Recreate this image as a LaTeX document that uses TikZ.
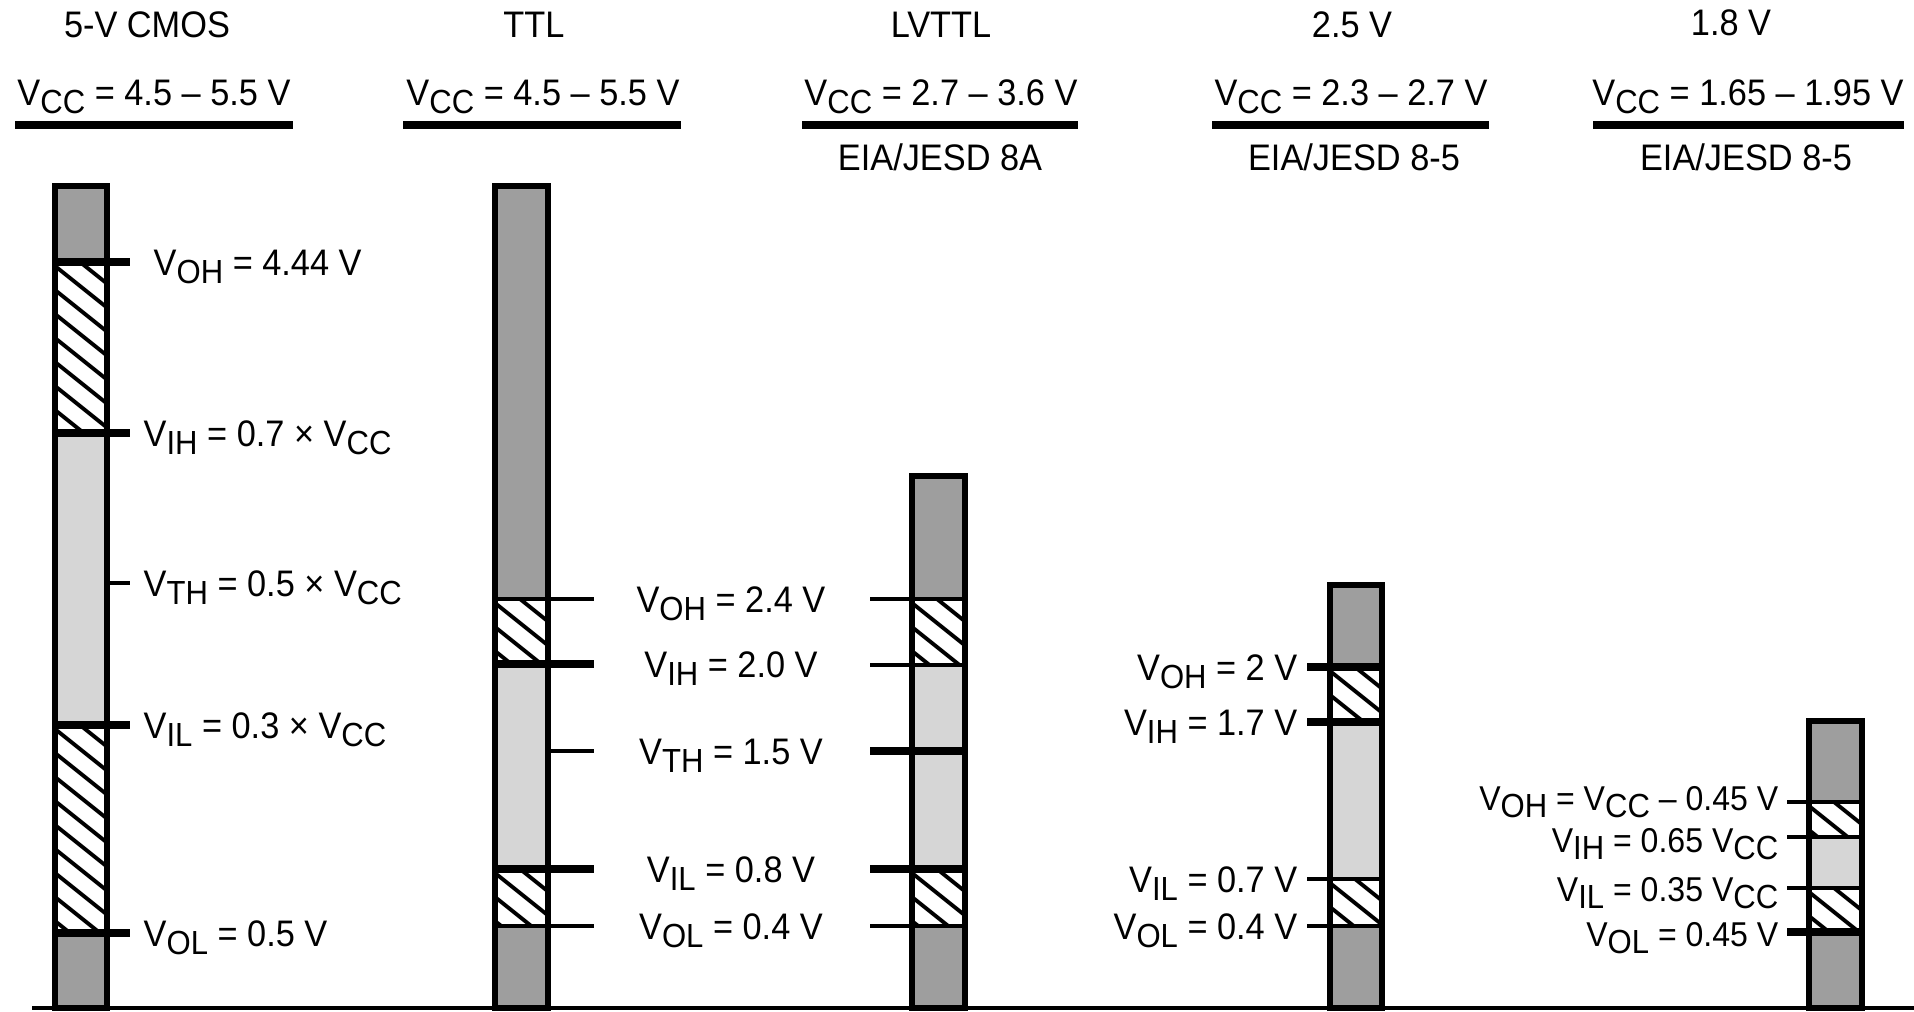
\documentclass[tikz,border=0pt]{standalone}
\usepackage{fontspec}
\setmainfont{Liberation Sans}[FakeStretch=0.93]
\usepackage{tikz}
\usetikzlibrary{positioning}
\definecolor{darkband}{gray}{0.62}
\definecolor{lightband}{gray}{0.84}
\newcommand{\vsub}[1]{V\raisebox{-0.42ex}{\fontsize{9.5}{10}\selectfont #1}}
\newcommand{\hatchzone}[4]{%
  \begin{scope}
    \clip (#1,#2) rectangle (#3,#4);
    \foreach \k in {0,...,14}
      \draw[hatch] (#1-5,#2-96+\k*24) -- ++(85,68);
  \end{scope}}

\begin{document}
\begin{tikzpicture}[x=0.01cm, y=-0.01cm,
    lab/.style={font=\fontsize{10.5}{12}\selectfont, inner sep=0pt},
    smalllab/.style={font=\fontsize{9.8}{12}\selectfont, inner sep=0pt, anchor=base east},
    head/.style={lab, anchor=base},
    hatch/.style={line width=1.1pt},
    barframe/.style={line width=1.5pt},
    thicktick/.style={line width=2.3pt},
    thintick/.style={line width=1.1pt},
    uline/.style={line width=2pt},
    groundline/.style={line width=1.4pt}
]
\useasboundingbox (0,0) rectangle (1914,1011);

% Headers
\node[head] (cmos-title) at (147,37) {5-V CMOS};
\node[head] (cmos-vcc) at (154,105) {\vsub{CC} = 4.5 -- 5.5 V};
\draw[uline] (15,125) -- (293,125);
\node[head] (ttl-title) at (534,37) {TTL};
\node[head] (ttl-vcc) at (543,105) {\vsub{CC} = 4.5 -- 5.5 V};
\draw[uline] (403,125) -- (681,125);
\node[head] (lvttl-title) at (941,37) {LVTTL};
\node[head] (lvttl-vcc) at (941,105) {\vsub{CC} = 2.7 -- 3.6 V};
\draw[uline] (802,125) -- (1078,125);
\node[head] (lvttl-std) at (940,170) {EIA/JESD 8A};
\node[head] (v25-title) at (1352,37) {2.5 V};
\node[head] (v25-vcc) at (1351,105) {\vsub{CC} = 2.3 -- 2.7 V};
\draw[uline] (1212,125) -- (1489,125);
\node[head] (v25-std) at (1354,170) {EIA/JESD 8-5};
\node[head] (v18-title) at (1731,35) {1.8 V};
\node[head] (v18-vcc) at (1748,105) {\vsub{CC} = 1.65 -- 1.95 V};
\draw[uline] (1593,125) -- (1904,125);
\node[head] (v18-std) at (1746,170) {EIA/JESD 8-5};

% 5-V CMOS bar
\fill[darkband] (55,186) rectangle (107,262);
\hatchzone{55}{262}{107}{433}
\fill[lightband] (55,433) rectangle (107,725);
\hatchzone{55}{725}{107}{933}
\fill[darkband] (55,933) rectangle (107,1008);
\draw[barframe] (55,186) rectangle (107,1008);
\draw[thicktick] (55,262) -- (130,262);
\draw[thicktick] (55,433) -- (130,433);
\draw[thintick] (107,583) -- (130,583);
\draw[thicktick] (55,725) -- (130,725);
\draw[thicktick] (55,933) -- (130,933);
\node[lab, anchor=base west] (cmos-voh) at (153,275) {\vsub{OH} = 4.44 V};
\node[lab, anchor=base west] (cmos-vih) at (143,446) {\vsub{IH} = 0.7 × \vsub{CC}};
\node[lab, anchor=base west] (cmos-vth) at (143,596) {\vsub{TH} = 0.5 × \vsub{CC}};
\node[lab, anchor=base west] (cmos-vil) at (143,738) {\vsub{IL} = 0.3 × \vsub{CC}};
\node[lab, anchor=base west] (cmos-vol) at (143,946) {\vsub{OL} = 0.5 V};

% TTL bar
\fill[darkband] (495,186) rectangle (548,599);
\hatchzone{495}{599}{548}{664}
\fill[lightband] (495,664) rectangle (548,869);
\hatchzone{495}{869}{548}{926}
\fill[darkband] (495,926) rectangle (548,1008);
\draw[barframe] (495,186) rectangle (548,1008);
\draw[thintick] (495,599) -- (594,599);
\draw[thicktick] (495,664) -- (594,664);
\draw[thintick] (548,751) -- (594,751);
\draw[thicktick] (495,869) -- (594,869);
\draw[thintick] (495,926) -- (594,926);

% shared TTL / LVTTL levels
\node[lab, anchor=base] (ttl-voh) at (731,612) {\vsub{OH} = 2.4 V};
\node[lab, anchor=base] (ttl-vih) at (731,677) {\vsub{IH} = 2.0 V};
\node[lab, anchor=base] (ttl-vth) at (731,764) {\vsub{TH} = 1.5 V};
\node[lab, anchor=base] (ttl-vil) at (731,882) {\vsub{IL} = 0.8 V};
\node[lab, anchor=base] (ttl-vol) at (731,939) {\vsub{OL} = 0.4 V};

% LVTTL bar
\fill[darkband] (912,476) rectangle (965,599);
\hatchzone{912}{599}{965}{665}
\fill[lightband] (912,665) rectangle (965,869);
\hatchzone{912}{869}{965}{926}
\fill[darkband] (912,926) rectangle (965,1008);
\draw[barframe] (912,476) rectangle (965,1008);
\draw[thintick] (870,599) -- (965,599);
\draw[thintick] (870,665) -- (965,665);
\draw[thicktick] (870,751) -- (965,751);
\draw[thicktick] (870,869) -- (965,869);
\draw[thintick] (870,926) -- (965,926);

% 2.5-V bar
\fill[darkband] (1330,585) rectangle (1382,667);
\hatchzone{1330}{667}{1382}{722}
\fill[lightband] (1330,722) rectangle (1382,879);
\hatchzone{1330}{879}{1382}{926}
\fill[darkband] (1330,926) rectangle (1382,1008);
\draw[barframe] (1330,585) rectangle (1382,1008);
\draw[thicktick] (1307,667) -- (1382,667);
\draw[thicktick] (1307,722) -- (1382,722);
\draw[thintick] (1307,879) -- (1382,879);
\draw[thintick] (1307,926) -- (1382,926);
\node[lab, anchor=base east] (v25-voh) at (1298,680) {\vsub{OH} = 2 V};
\node[lab, anchor=base east] (v25-vih) at (1298,735) {\vsub{IH} = 1.7 V};
\node[lab, anchor=base east] (v25-vil) at (1298,892) {\vsub{IL} = 0.7 V};
\node[lab, anchor=base east] (v25-vol) at (1298,939) {\vsub{OL} = 0.4 V};

% 1.8-V bar
\fill[darkband] (1809,721) rectangle (1862,802);
\hatchzone{1809}{802}{1862}{837}
\fill[lightband] (1809,837) rectangle (1862,888);
\hatchzone{1809}{888}{1862}{932}
\fill[darkband] (1809,932) rectangle (1862,1008);
\draw[barframe] (1809,721) rectangle (1862,1008);
\draw[thintick] (1787,802) -- (1862,802);
\draw[thintick] (1787,837) -- (1862,837);
\draw[thintick] (1787,888) -- (1862,888);
\draw[thicktick] (1787,932) -- (1862,932);
\node[smalllab] (v18-voh) at (1779,810) {\vsub{OH} = \vsub{CC} -- 0.45 V};
\node[smalllab] (v18-vih) at (1779,852) {\vsub{IH} = 0.65 \vsub{CC}};
\node[smalllab] (v18-vil) at (1779,901) {\vsub{IL} = 0.35 \vsub{CC}};
\node[smalllab] (v18-vol) at (1779,946) {\vsub{OL} = 0.45 V};

% Ground line
\draw[groundline] (32,1008) -- (1914,1008);

\end{tikzpicture}
\end{document}
